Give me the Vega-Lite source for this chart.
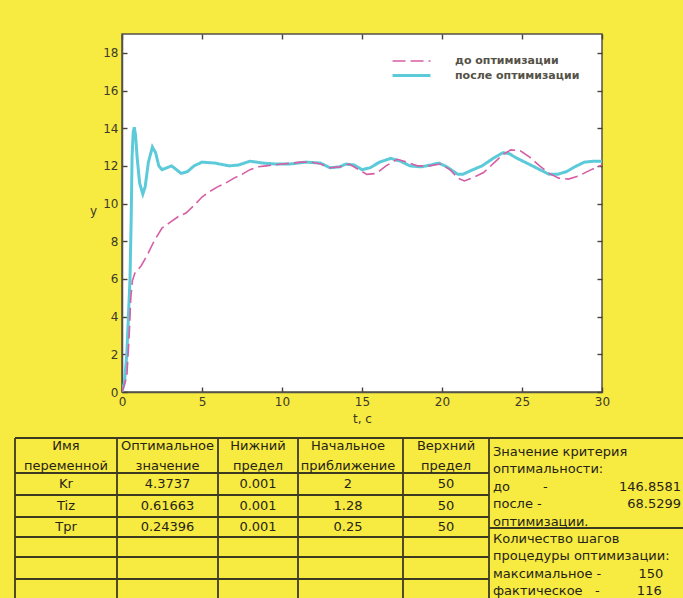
{
  "$schema": "https://vega.github.io/schema/vega-lite/v6.json",
  "width": 480,
  "height": 358,
  "autosize": {"type": "none"},
  "padding": {"left": 122, "top": 34, "right": 81, "bottom": 206},
  "background": "#f7ea40",
  "config": {
    "font": "DejaVu Sans",
    "view": {"fill": "white", "stroke": "#55524a", "strokeWidth": 1.5},
    "axis": {
      "grid": false,
      "domainColor": "#55524a",
      "domainWidth": 1.5,
      "tickColor": "#45423a",
      "tickSize": -5,
      "tickWidth": 1.4,
      "labelFlush": false,
      "labelFont": "DejaVu Sans",
      "labelFontSize": 12,
      "labelColor": "#3d3a2c",
      "titleFont": "DejaVu Sans",
      "titleFontSize": 12,
      "titleFontWeight": "normal",
      "titleColor": "#3a3626"
    }
  },
  "datasets": {
    "series": [
      {"s": "после оптимизации", "t": 0, "y": 0},
      {"s": "после оптимизации", "t": 0.15, "y": 0.5},
      {"s": "после оптимизации", "t": 0.3, "y": 2.0},
      {"s": "после оптимизации", "t": 0.4, "y": 4.0},
      {"s": "после оптимизации", "t": 0.5, "y": 6.0},
      {"s": "после оптимизации", "t": 0.57, "y": 9.0},
      {"s": "после оптимизации", "t": 0.63, "y": 12.5},
      {"s": "после оптимизации", "t": 0.7, "y": 13.8},
      {"s": "после оптимизации", "t": 0.77, "y": 14.05},
      {"s": "после оптимизации", "t": 0.85, "y": 13.6},
      {"s": "после оптимизации", "t": 0.95, "y": 12.4},
      {"s": "после оптимизации", "t": 1.1, "y": 11.1},
      {"s": "после оптимизации", "t": 1.3, "y": 10.5},
      {"s": "после оптимизации", "t": 1.45, "y": 10.9},
      {"s": "после оптимизации", "t": 1.65, "y": 12.2},
      {"s": "после оптимизации", "t": 1.9, "y": 13.0},
      {"s": "после оптимизации", "t": 2.1, "y": 12.7},
      {"s": "после оптимизации", "t": 2.3, "y": 12.0},
      {"s": "после оптимизации", "t": 2.5, "y": 11.8},
      {"s": "после оптимизации", "t": 2.8, "y": 11.9},
      {"s": "после оптимизации", "t": 3.1, "y": 12.0},
      {"s": "после оптимизации", "t": 3.4, "y": 11.8},
      {"s": "после оптимизации", "t": 3.7, "y": 11.6},
      {"s": "после оптимизации", "t": 4.1, "y": 11.7},
      {"s": "после оптимизации", "t": 4.5, "y": 12.0},
      {"s": "после оптимизации", "t": 5.0, "y": 12.2},
      {"s": "после оптимизации", "t": 5.8, "y": 12.15},
      {"s": "после оптимизации", "t": 6.7, "y": 12.0},
      {"s": "после оптимизации", "t": 7.3, "y": 12.05},
      {"s": "после оптимизации", "t": 8.0, "y": 12.25},
      {"s": "после оптимизации", "t": 8.8, "y": 12.15},
      {"s": "после оптимизации", "t": 9.6, "y": 12.1},
      {"s": "после оптимизации", "t": 10.5, "y": 12.1},
      {"s": "после оптимизации", "t": 11.5, "y": 12.2},
      {"s": "после оптимизации", "t": 12.4, "y": 12.15},
      {"s": "после оптимизации", "t": 13.0, "y": 11.9},
      {"s": "после оптимизации", "t": 13.6, "y": 11.95},
      {"s": "после оптимизации", "t": 14.0, "y": 12.1},
      {"s": "после оптимизации", "t": 14.5, "y": 12.05},
      {"s": "после оптимизации", "t": 15.0, "y": 11.8},
      {"s": "после оптимизации", "t": 15.5, "y": 11.9},
      {"s": "после оптимизации", "t": 16.1, "y": 12.2},
      {"s": "после оптимизации", "t": 16.8, "y": 12.4},
      {"s": "после оптимизации", "t": 17.4, "y": 12.25},
      {"s": "после оптимизации", "t": 18.0, "y": 12.0},
      {"s": "после оптимизации", "t": 18.7, "y": 11.95},
      {"s": "после оптимизации", "t": 19.3, "y": 12.05},
      {"s": "после оптимизации", "t": 19.8, "y": 12.15},
      {"s": "после оптимизации", "t": 20.3, "y": 11.95},
      {"s": "после оптимизации", "t": 21.0, "y": 11.55},
      {"s": "после оптимизации", "t": 21.3, "y": 11.55},
      {"s": "после оптимизации", "t": 21.8, "y": 11.75},
      {"s": "после оптимизации", "t": 22.5, "y": 12.0},
      {"s": "после оптимизации", "t": 23.2, "y": 12.4},
      {"s": "после оптимизации", "t": 23.8, "y": 12.7},
      {"s": "после оптимизации", "t": 24.2, "y": 12.65},
      {"s": "после оптимизации", "t": 24.7, "y": 12.4},
      {"s": "после оптимизации", "t": 25.3, "y": 12.15},
      {"s": "после оптимизации", "t": 26.0, "y": 11.85},
      {"s": "после оптимизации", "t": 26.7, "y": 11.55},
      {"s": "после оптимизации", "t": 27.2, "y": 11.55},
      {"s": "после оптимизации", "t": 27.8, "y": 11.7},
      {"s": "после оптимизации", "t": 28.3, "y": 11.95},
      {"s": "после оптимизации", "t": 28.9, "y": 12.2},
      {"s": "после оптимизации", "t": 29.5, "y": 12.25},
      {"s": "после оптимизации", "t": 30, "y": 12.25},
      {"s": "до оптимизации", "t": 0, "y": 0},
      {"s": "до оптимизации", "t": 0.3, "y": 0.8},
      {"s": "до оптимизации", "t": 0.45, "y": 3.0},
      {"s": "до оптимизации", "t": 0.55, "y": 5.0},
      {"s": "до оптимизации", "t": 0.65, "y": 5.9},
      {"s": "до оптимизации", "t": 0.8, "y": 6.3},
      {"s": "до оптимизации", "t": 1.2, "y": 6.7},
      {"s": "до оптимизации", "t": 1.6, "y": 7.3},
      {"s": "до оптимизации", "t": 2.0, "y": 8.0},
      {"s": "до оптимизации", "t": 2.5, "y": 8.7},
      {"s": "до оптимизации", "t": 3.0, "y": 9.0},
      {"s": "до оптимизации", "t": 3.5, "y": 9.3},
      {"s": "до оптимизации", "t": 4.0, "y": 9.5},
      {"s": "до оптимизации", "t": 4.5, "y": 9.9},
      {"s": "до оптимизации", "t": 5.0, "y": 10.35},
      {"s": "до оптимизации", "t": 5.5, "y": 10.65},
      {"s": "до оптимизации", "t": 6.0, "y": 10.9},
      {"s": "до оптимизации", "t": 6.5, "y": 11.1},
      {"s": "до оптимизации", "t": 7.0, "y": 11.35},
      {"s": "до оптимизации", "t": 7.5, "y": 11.55},
      {"s": "до оптимизации", "t": 8.0, "y": 11.8},
      {"s": "до оптимизации", "t": 8.5, "y": 11.95},
      {"s": "до оптимизации", "t": 9.0, "y": 12.0},
      {"s": "до оптимизации", "t": 9.5, "y": 12.05},
      {"s": "до оптимизации", "t": 10.0, "y": 12.1},
      {"s": "до оптимизации", "t": 10.6, "y": 12.15},
      {"s": "до оптимизации", "t": 11.2, "y": 12.2},
      {"s": "до оптимизации", "t": 11.8, "y": 12.2},
      {"s": "до оптимизации", "t": 12.4, "y": 12.1},
      {"s": "до оптимизации", "t": 13.0, "y": 11.9},
      {"s": "до оптимизации", "t": 13.6, "y": 11.95},
      {"s": "до оптимизации", "t": 14.2, "y": 12.1},
      {"s": "до оптимизации", "t": 14.7, "y": 11.85},
      {"s": "до оптимизации", "t": 15.3, "y": 11.55},
      {"s": "до оптимизации", "t": 15.9, "y": 11.6},
      {"s": "до оптимизации", "t": 16.5, "y": 12.0},
      {"s": "до оптимизации", "t": 17.2, "y": 12.35},
      {"s": "до оптимизации", "t": 17.8, "y": 12.2},
      {"s": "до оптимизации", "t": 18.5, "y": 12.0},
      {"s": "до оптимизации", "t": 19.2, "y": 12.0},
      {"s": "до оптимизации", "t": 19.9, "y": 12.1},
      {"s": "до оптимизации", "t": 20.5, "y": 11.8},
      {"s": "до оптимизации", "t": 21.0, "y": 11.35},
      {"s": "до оптимизации", "t": 21.4, "y": 11.2},
      {"s": "до оптимизации", "t": 22.0, "y": 11.4},
      {"s": "до оптимизации", "t": 22.6, "y": 11.65},
      {"s": "до оптимизации", "t": 23.3, "y": 12.2},
      {"s": "до оптимизации", "t": 23.8, "y": 12.6},
      {"s": "до оптимизации", "t": 24.3, "y": 12.85},
      {"s": "до оптимизации", "t": 24.9, "y": 12.8},
      {"s": "до оптимизации", "t": 25.5, "y": 12.45},
      {"s": "до оптимизации", "t": 26.1, "y": 12.0},
      {"s": "до оптимизации", "t": 26.7, "y": 11.6},
      {"s": "до оптимизации", "t": 27.3, "y": 11.35},
      {"s": "до оптимизации", "t": 27.9, "y": 11.3},
      {"s": "до оптимизации", "t": 28.5, "y": 11.45},
      {"s": "до оптимизации", "t": 29.2, "y": 11.75},
      {"s": "до оптимизации", "t": 30, "y": 12.05}
    ],
    "frame": [{"t": 0, "y": 0}, {"t": 30, "y": 19}],
    "grid": [
      {"x1": 0, "x2": 0, "y1": 0, "y2": 8},
      {"x1": 1, "x2": 1, "y1": 0, "y2": 8},
      {"x1": 2, "x2": 2, "y1": 0, "y2": 8},
      {"x1": 3, "x2": 3, "y1": 0, "y2": 8},
      {"x1": 4, "x2": 4, "y1": 0, "y2": 8},
      {"x1": 5, "x2": 5, "y1": 0, "y2": 8},
      {"x1": 0, "x2": 6, "y1": 0, "y2": 0},
      {"x1": 0, "x2": 5, "y1": 1, "y2": 1},
      {"x1": 0, "x2": 5, "y1": 2, "y2": 2},
      {"x1": 0, "x2": 5, "y1": 3, "y2": 3},
      {"x1": 5, "x2": 6, "y1": 4, "y2": 4},
      {"x1": 0, "x2": 5, "y1": 5, "y2": 5},
      {"x1": 0, "x2": 5, "y1": 6, "y2": 6},
      {"x1": 0, "x2": 5, "y1": 7, "y2": 7}
    ],
    "cells": [
      {"c": 0, "r": 0, "text": "Имя\nпеременной"},
      {"c": 1, "r": 0, "text": "Оптимальное\nзначение"},
      {"c": 2, "r": 0, "text": "Нижний\nпредел"},
      {"c": 3, "r": 0, "text": "Начальное\nприближение"},
      {"c": 4, "r": 0, "text": "Верхний\nпредел"},
      {"c": 0, "r": 1, "text": "Kr"},
      {"c": 1, "r": 1, "text": "4.3737"},
      {"c": 2, "r": 1, "text": "0.001"},
      {"c": 3, "r": 1, "text": "2"},
      {"c": 4, "r": 1, "text": "50"},
      {"c": 0, "r": 2, "text": "Tiz"},
      {"c": 1, "r": 2, "text": "0.61663"},
      {"c": 2, "r": 2, "text": "0.001"},
      {"c": 3, "r": 2, "text": "1.28"},
      {"c": 4, "r": 2, "text": "50"},
      {"c": 0, "r": 3, "text": "Tpr"},
      {"c": 1, "r": 3, "text": "0.24396"},
      {"c": 2, "r": 3, "text": "0.001"},
      {"c": 3, "r": 3, "text": "0.25"},
      {"c": 4, "r": 3, "text": "50"}
    ],
    "panel": [
      {"line": 0, "label": "Значение критерия", "value": ""},
      {"line": 1, "label": "оптимальности:", "value": ""},
      {"line": 2, "label": "до\u00a0\u00a0\u00a0\u00a0\u00a0\u00a0\u00a0\u00a0-", "value": "146.8581"},
      {"line": 3, "label": "после -", "value": "68.5299"},
      {"line": 4, "label": "оптимизации.", "value": ""},
      {"line": 5, "label": "Количество шагов", "value": ""},
      {"line": 6, "label": "процедуры оптимизации:", "value": ""},
      {"line": 7, "label": "максимальное -\u00a0\u00a0\u00a0\u00a0\u00a0\u00a0\u00a0\u00a0\u00a0150", "value": ""},
      {"line": 8, "label": "фактическое\u00a0\u00a0\u00a0-\u00a0\u00a0\u00a0\u00a0\u00a0\u00a0\u00a0\u00a0\u00a0116", "value": ""}
    ]
  },
  "resolve": {"scale": {"x": "independent", "y": "independent"}},
  "layer": [
    {
      "data": {"name": "series"},
      "mark": {"type": "line", "clip": true},
      "encoding": {
        "x": {
          "field": "t", "type": "quantitative",
          "scale": {"domain": [0, 30], "nice": false},
          "axis": {"values": [0, 5, 10, 15, 20, 25, 30], "title": "t, c", "labelPadding": 9, "titlePadding": 6}
        },
        "y": {
          "field": "y", "type": "quantitative",
          "scale": {"domain": [0, 19], "nice": false},
          "axis": {"values": [0, 2, 4, 6, 8, 10, 12, 14, 16, 18], "title": "y", "titleAngle": 0, "titleX": -29, "titleY": 176, "titleAlign": "center", "titleBaseline": "middle", "labelPadding": 9}
        },
        "color": {
          "field": "s", "type": "nominal",
          "scale": {"domain": ["до оптимизации", "после оптимизации"], "range": ["#d65ea4", "#5ccad8"]},
          "legend": {
            "orient": "none", "legendX": 283, "legendY": 21, "title": null,
            "padding": 0, "rowPadding": 3,
            "symbolType": "M-4,0H4", "symbolSize": 90, "labelOffset": 37,
            "labelFont": "DejaVu Sans", "labelFontSize": 11, "labelFontWeight": "bold", "labelColor": "#555248"
          }
        },
        "strokeDash": {
          "field": "s", "type": "nominal",
          "scale": {"domain": ["до оптимизации", "после оптимизации"], "range": [[13, 5], [1, 0]]},
          "legend": {
            "orient": "none", "legendX": 283, "legendY": 21, "title": null,
            "padding": 0, "rowPadding": 3,
            "symbolType": "M-4,0H4", "symbolSize": 90, "labelOffset": 37,
            "labelFont": "DejaVu Sans", "labelFontSize": 11, "labelFontWeight": "bold", "labelColor": "#555248"
          }
        },
        "strokeWidth": {
          "field": "s", "type": "nominal",
          "scale": {"domain": ["до оптимизации", "после оптимизации"], "range": [1.6, 3]},
          "legend": {
            "orient": "none", "legendX": 283, "legendY": 21, "title": null,
            "padding": 0, "rowPadding": 3,
            "symbolType": "M-4,0H4", "symbolSize": 90, "labelOffset": 37,
            "labelFont": "DejaVu Sans", "labelFontSize": 11, "labelFontWeight": "bold", "labelColor": "#555248"
          }
        },
        "order": {"field": "t", "type": "quantitative"}
      }
    },
    {
      "data": {"name": "frame"},
      "mark": {"type": "point", "opacity": 0},
      "encoding": {
        "x": {
          "field": "t", "type": "quantitative",
          "scale": {"domain": [0, 30], "nice": false},
          "axis": {"orient": "top", "values": [0, 5, 10, 15, 20, 25, 30], "labels": false, "domain": false, "title": null}
        },
        "y": {
          "field": "y", "type": "quantitative",
          "scale": {"domain": [0, 19], "nice": false},
          "axis": {"orient": "right", "values": [0, 2, 4, 6, 8, 10, 12, 14, 16, 18], "labels": false, "domain": false, "title": null}
        }
      }
    },
    {
      "data": {"name": "grid"},
      "mark": {"type": "rule", "color": "#3d3a22", "strokeWidth": 1.8},
      "encoding": {
        "x": {"field": "x1", "type": "quantitative", "axis": null,
              "scale": {"domain": [0, 1, 2, 3, 4, 5, 6], "range": [-107, -5, 96, 176, 281, 367, 561], "nice": false, "zero": false}},
        "x2": {"field": "x2"},
        "y": {"field": "y1", "type": "quantitative", "axis": null,
              "scale": {"domain": [0, 1, 2, 3, 4, 5, 6, 7, 8], "range": [404, 439, 461, 483, 494, 503, 523, 545, 567], "nice": false, "zero": false}},
        "y2": {"field": "y2"}
      }
    },
    {
      "data": {"name": "cells"},
      "mark": {"type": "text", "align": "center", "baseline": "middle", "lineBreak": "\n", "lineHeight": 20, "font": "DejaVu Sans", "fontSize": 13, "color": "#26241a"},
      "encoding": {
        "x": {"field": "c", "type": "quantitative", "axis": null,
              "scale": {"domain": [0, 1, 2, 3, 4], "range": [-56, 45.5, 136, 226, 324], "nice": false, "zero": false}},
        "y": {"field": "r", "type": "quantitative", "axis": null,
              "scale": {"domain": [0, 1, 2, 3], "range": [411.5, 450, 472, 493], "nice": false, "zero": false}},
        "text": {"field": "text"}
      }
    },
    {
      "data": {"name": "panel"},
      "layer": [
        {
          "mark": {"type": "text", "align": "left", "baseline": "middle", "dx": 4, "font": "DejaVu Sans", "fontSize": 13, "color": "#26241a"},
          "encoding": {
            "x": {"datum": 5, "type": "quantitative", "axis": null,
                  "scale": {"domain": [5, 6], "range": [367, 561], "nice": false, "zero": false}},
            "text": {"field": "label"}
          }
        },
        {
          "mark": {"type": "text", "align": "right", "baseline": "middle", "dx": -2, "font": "DejaVu Sans", "fontSize": 13, "color": "#26241a"},
          "encoding": {
            "x": {"datum": 6, "type": "quantitative", "axis": null},
            "text": {"field": "value"}
          }
        }
      ],
      "encoding": {
        "y": {"field": "line", "type": "quantitative", "axis": null,
              "scale": {"domain": [0, 8], "range": [418, 557], "nice": false, "zero": false}}
      }
    }
  ]
}
